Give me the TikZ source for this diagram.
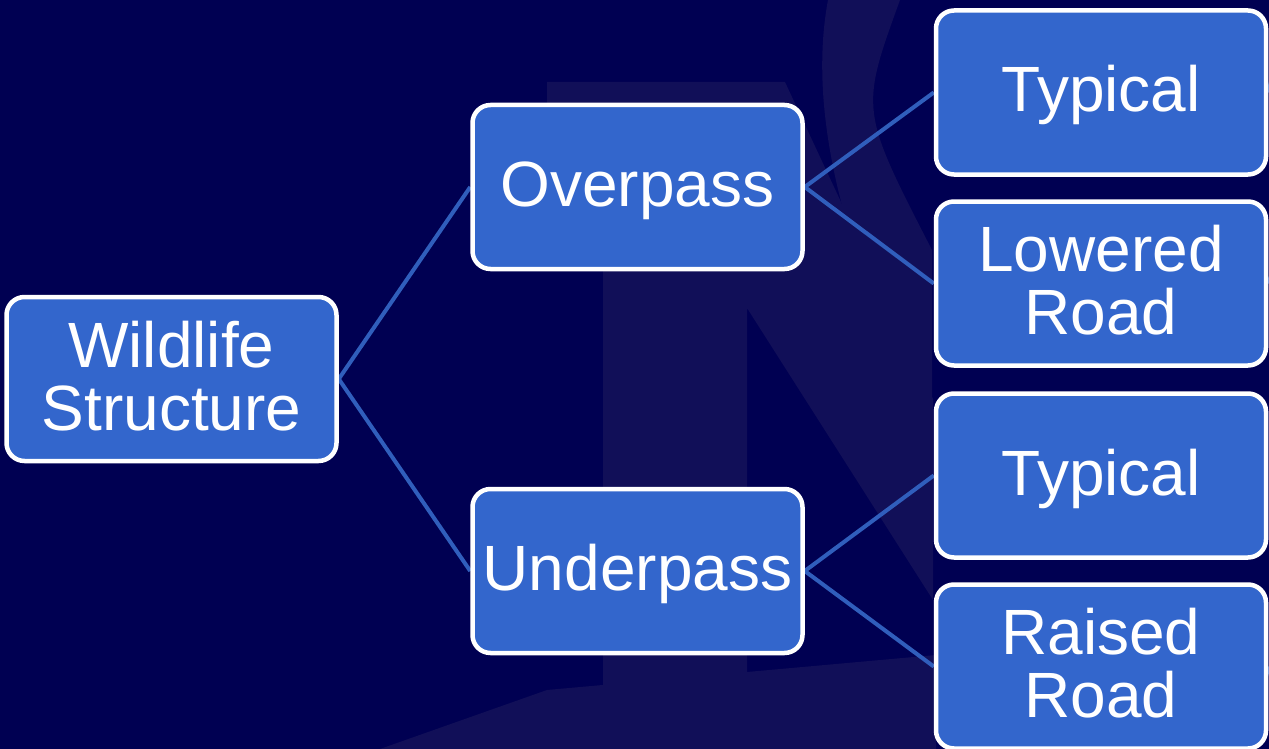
\documentclass[tikz,border=0pt]{standalone}
\usepackage{fontspec}
\setmainfont{Liberation Sans}
\usetikzlibrary{calc,backgrounds}
\definecolor{bgnavy}{RGB}{0,0,82}
\definecolor{wmark}{RGB}{17,15,88}
\definecolor{boxblue}{RGB}{51,102,204}
\definecolor{linkblue}{RGB}{48,94,188}
\tikzset{
	box/.style={draw=white, line width=4.5pt, fill=boxblue, rounded corners=18pt,
		minimum width=330pt, minimum height=164pt, inner sep=0pt, align=center,
		text=white, font=\fontsize{64}{63}\selectfont},
	oneline/.style={text height=47pt, text depth=8pt},
	twoline/.style={text height=110pt, text depth=8pt},
	link/.style={draw=linkblue, line width=4pt}
}
\begin{document}
\begin{tikzpicture}[x=1pt, y=-1pt]
	\useasboundingbox (0,0) rectangle (1269,749);
	\coordinate (W) at (171.5,379);
	\coordinate (O) at (637.5,187);
	\coordinate (U) at (637.5,571);
	\coordinate (T1) at (1101,92.5);
	\coordinate (L) at (1101,283.5);
	\coordinate (T2) at (1101,475.5);
	\coordinate (R) at (1101,666.5);
	
	\node[box, twoline] (wild) at (W) {Wildlife\\Structure};
	\node[box, oneline] (over) at (O) {Overpass};
	\node[box, oneline] (under) at (U) {Underpass};
	\node[box, oneline] (typover) at (T1) {Typical};
	\node[box, twoline] (lowered) at (L) {Lowered\\Road};
	\node[box, oneline] (typunder) at (T2) {Typical};
	\node[box, twoline] (raised) at (R) {Raised\\Road};
	
	\coordinate (typover-out) at (1292,0);
	\coordinate (lowered-out) at (1292,220);
	\coordinate (raised-out) at (1292,750);
	
	\begin{scope}[on background layer]
		\fill[bgnavy] (0,0) rectangle (1269,749);
		\fill[wmark] (547,82) -- (785,82) -- (933,399) -- (933,600) -- (747,308)
			-- (747,749) -- (603,749) -- (603,271) -- (547,271) -- cycle;
		\fill[wmark] (380,749) -- (547,690) -- (936,655) -- (936,749) -- cycle;
		\fill[wmark] (828,0) -- (900,0) .. controls (860,110) .. (932,250)
			-- (932,430) .. controls (880,330) and (800,150) .. cycle;
		
		\draw[link] (wild.east) -- (over.west);
		\draw[link] (wild.east) -- (under.west);
		\draw[link] (over.east) -- (typover.west);
		\draw[link] (over.east) -- (lowered.west);
		\draw[link] (under.east) -- (typunder.west);
		\draw[link] (under.east) -- (raised.west);
		\draw[link] (typover.east) -- (typover-out);
		\draw[link] (lowered.east) -- (lowered-out);
		\draw[link] (raised.east) -- (raised-out);
	\end{scope}
\end{tikzpicture}
\end{document}
